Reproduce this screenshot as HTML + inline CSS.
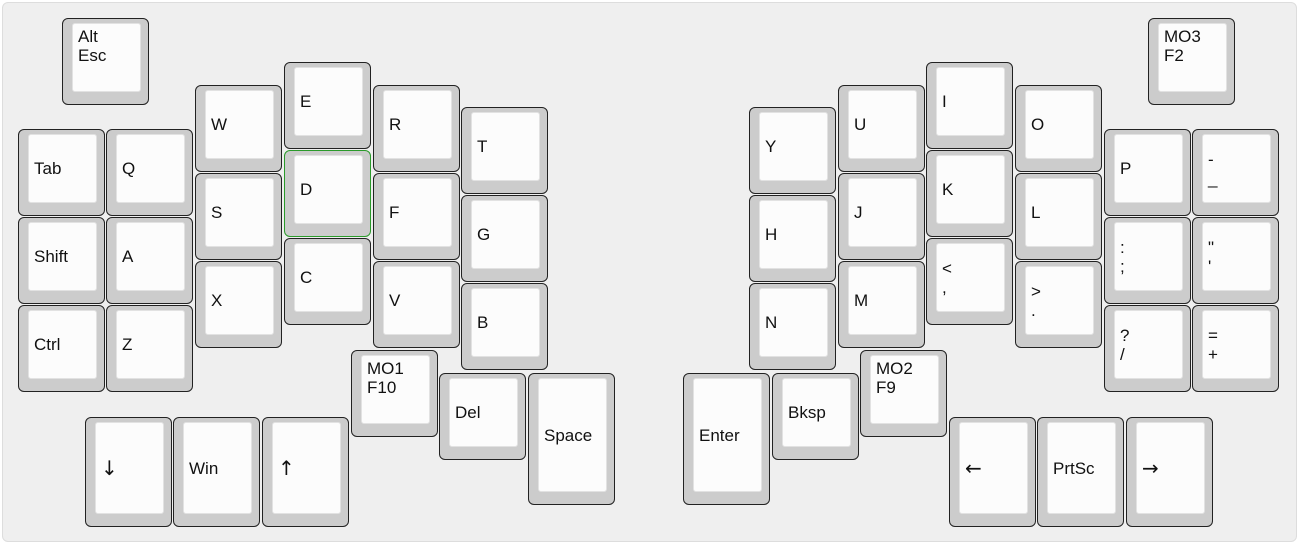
<!DOCTYPE html>
<html><head><meta charset="utf-8"><style>
body{margin:0;background:#fff;width:1300px;height:545px;overflow:hidden;position:relative;font-family:"Liberation Sans",Arial,sans-serif;}
#panel{position:absolute;left:2px;top:2px;width:1295px;height:540px;background:#efefef;border:1px solid #ddd;border-radius:6px;box-sizing:border-box;}
.k{position:absolute;width:87px;height:87px;box-sizing:border-box;background:#ccc;border:1.5px solid #222;border-radius:6px;}
.k.g{border-color:#2a9a2a;}
.i{position:absolute;left:9px;top:4px;right:7px;bottom:12px;background:#fcfcfc;border:1px solid #e2e2e2;border-radius:3px;display:flex;align-items:center;padding-left:5px;font-size:17px;line-height:19px;color:#111;}
.i.t{align-items:flex-start;padding-top:3px;}
.a{font-family:"DejaVu Sans",sans-serif;font-size:20px;}
</style></head><body>
<div id="panel"></div>
<!-- left -->
<div class="k" style="left:62px;top:18px"><div class="i t">Alt<br>Esc</div></div>
<div class="k" style="left:18px;top:129px"><div class="i">Tab</div></div>
<div class="k" style="left:18px;top:217px"><div class="i">Shift</div></div>
<div class="k" style="left:18px;top:305px"><div class="i">Ctrl</div></div>
<div class="k" style="left:106px;top:129px"><div class="i">Q</div></div>
<div class="k" style="left:106px;top:217px"><div class="i">A</div></div>
<div class="k" style="left:106px;top:305px"><div class="i">Z</div></div>
<div class="k" style="left:195px;top:85px"><div class="i">W</div></div>
<div class="k" style="left:195px;top:173px"><div class="i">S</div></div>
<div class="k" style="left:195px;top:261px"><div class="i">X</div></div>
<div class="k" style="left:284px;top:62px"><div class="i">E</div></div>
<div class="k g" style="left:284px;top:150px"><div class="i">D</div></div>
<div class="k" style="left:284px;top:238px"><div class="i">C</div></div>
<div class="k" style="left:373px;top:85px"><div class="i">R</div></div>
<div class="k" style="left:373px;top:173px"><div class="i">F</div></div>
<div class="k" style="left:373px;top:261px"><div class="i">V</div></div>
<div class="k" style="left:461px;top:107px"><div class="i">T</div></div>
<div class="k" style="left:461px;top:195px"><div class="i">G</div></div>
<div class="k" style="left:461px;top:283px"><div class="i">B</div></div>
<div class="k" style="left:351px;top:350px"><div class="i t">MO1<br>F10</div></div>
<div class="k" style="left:439px;top:373px"><div class="i">Del</div></div>
<div class="k" style="left:528px;top:373px;height:132px"><div class="i">Space</div></div>
<div class="k" style="left:85px;top:417px;height:110px"><div class="i"><span class="a">↓</span></div></div>
<div class="k" style="left:173px;top:417px;height:110px"><div class="i">Win</div></div>
<div class="k" style="left:262px;top:417px;height:110px"><div class="i"><span class="a">↑</span></div></div>
<!-- right -->
<div class="k" style="left:1148px;top:18px"><div class="i t">MO3<br>F2</div></div>
<div class="k" style="left:1104px;top:129px"><div class="i">P</div></div>
<div class="k" style="left:1104px;top:217px"><div class="i">:<br>;</div></div>
<div class="k" style="left:1104px;top:305px"><div class="i">?<br>/</div></div>
<div class="k" style="left:1192px;top:129px"><div class="i">-<br>_</div></div>
<div class="k" style="left:1192px;top:217px"><div class="i">"<br>'</div></div>
<div class="k" style="left:1192px;top:305px"><div class="i">=<br>+</div></div>
<div class="k" style="left:1015px;top:85px"><div class="i">O</div></div>
<div class="k" style="left:1015px;top:173px"><div class="i">L</div></div>
<div class="k" style="left:1015px;top:261px"><div class="i">&gt;<br>.</div></div>
<div class="k" style="left:926px;top:62px"><div class="i">I</div></div>
<div class="k" style="left:926px;top:150px"><div class="i">K</div></div>
<div class="k" style="left:926px;top:238px"><div class="i">&lt;<br>,</div></div>
<div class="k" style="left:838px;top:85px"><div class="i">U</div></div>
<div class="k" style="left:838px;top:173px"><div class="i">J</div></div>
<div class="k" style="left:838px;top:261px"><div class="i">M</div></div>
<div class="k" style="left:749px;top:107px"><div class="i">Y</div></div>
<div class="k" style="left:749px;top:195px"><div class="i">H</div></div>
<div class="k" style="left:749px;top:283px"><div class="i">N</div></div>
<div class="k" style="left:860px;top:350px"><div class="i t">MO2<br>F9</div></div>
<div class="k" style="left:772px;top:373px"><div class="i">Bksp</div></div>
<div class="k" style="left:683px;top:373px;height:132px"><div class="i">Enter</div></div>
<div class="k" style="left:949px;top:417px;height:110px"><div class="i"><span class="a">←</span></div></div>
<div class="k" style="left:1037px;top:417px;height:110px"><div class="i">PrtSc</div></div>
<div class="k" style="left:1126px;top:417px;height:110px"><div class="i"><span class="a">→</span></div></div>
</body></html>
